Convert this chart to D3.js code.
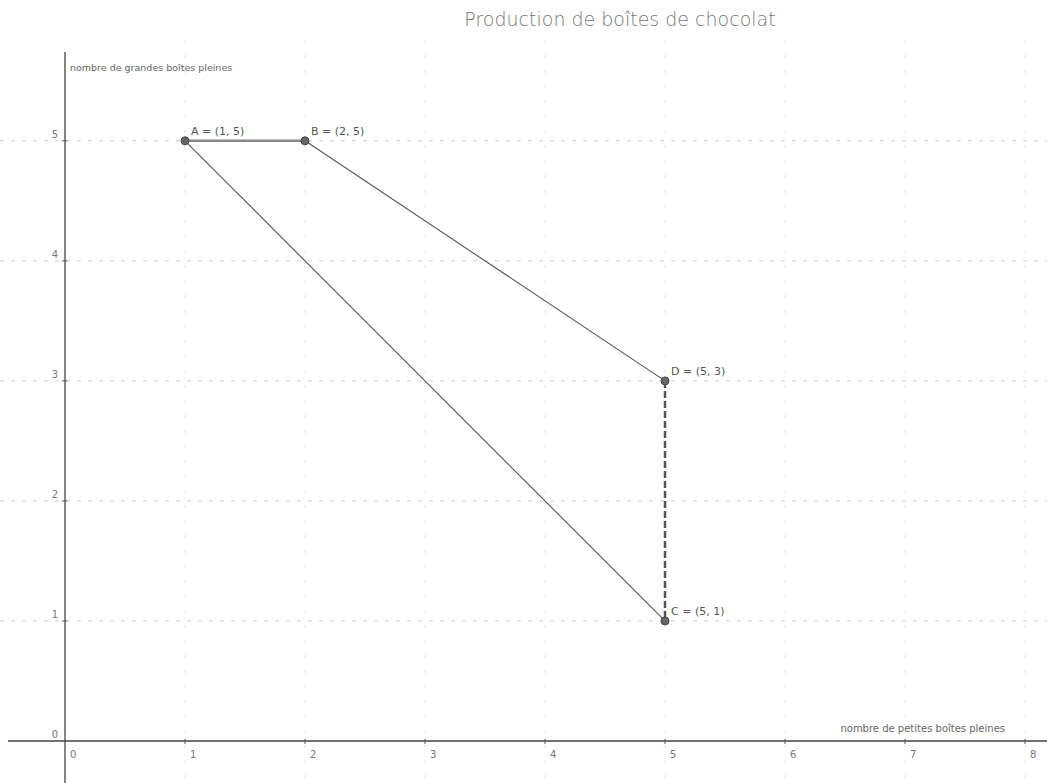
<!DOCTYPE html>
<html>
<head>
<meta charset="utf-8">
<script src="https://cdn.jsdelivr.net/npm/d3@7"></script>
<style>
  body { margin: 0; background: #fff; }
  text { font-family: "DejaVu Sans", sans-serif; fill: #555; }
</style>
</head>
<body>
<div class="chart"></div>
<script>
var pointNames = ['A', 'B', 'D', 'C'];
var pointX = [1, 2, 5, 5];
var pointY = [5, 5, 3, 1];
var xTicks = [0, 1, 2, 3, 4, 5, 6, 7, 8];
var yTicks = [0, 1, 2, 3, 4, 5];

var W = 1047, H = 783;

// 1 unit ~ 120px, origin near (65, 741)
var x = d3.scaleLinear().domain([-0.475, 8.2]).range([8, 1049]);
var y = d3.scaleLinear().domain([0, 5.74]).range([741, 52]);

var svg = d3.select('.chart')
  .append('svg')
    .attr('width', W)
    .attr('height', H);

// title
svg.append('text')
  .attr('x', 620).attr('y', 26)
  .attr('text-anchor', 'middle')
  .style('font-size', '19px')
  .style('font-family', '"URW Gothic", "DejaVu Sans", sans-serif')
  .style('font-weight', 300)
  .style('fill', '#777')
  .text('Production de boîtes de chocolat');

// grid (dashed)
svg.append('g').selectAll('line')
  .data(yTicks.filter(d => d > 0))
  .enter().append('line')
    .attr('x1', 0).attr('x2', W)
    .attr('y1', d => y(d)).attr('y2', d => y(d))
    .attr('stroke', '#ccc').attr('stroke-dasharray', '4,7');

svg.append('g').selectAll('line')
  .data(xTicks.filter(d => d > 0))
  .enter().append('line')
    .attr('x1', d => x(d)).attr('x2', d => x(d))
    .attr('y1', 40).attr('y2', H)
    .attr('stroke', '#e2e2e2').attr('stroke-dasharray', '3,12');

// axes
svg.append('line')
  .attr('x1', 8).attr('x2', W)
  .attr('y1', y(0)).attr('y2', y(0))
  .attr('stroke', '#444').attr('stroke-width', 1.3);
svg.append('line')
  .attr('x1', x(0)).attr('x2', x(0))
  .attr('y1', y(5.74)).attr('y2', H)
  .attr('stroke', '#444').attr('stroke-width', 1.3);

// ticks
svg.append('g').selectAll('line')
  .data(xTicks.filter(d => d > 0))
  .enter().append('line')
    .attr('x1', d => x(d)).attr('x2', d => x(d))
    .attr('y1', y(0) - 2).attr('y2', y(0) + 3)
    .attr('stroke', '#555');
svg.append('g').selectAll('line')
  .data(yTicks.filter(d => d > 0))
  .enter().append('line')
    .attr('x1', x(0) - 3).attr('x2', x(0) + 2)
    .attr('y1', d => y(d)).attr('y2', d => y(d))
    .attr('stroke', '#555');

svg.append('g').selectAll('text')
  .data(xTicks)
  .enter().append('text')
    .attr('x', d => x(d) + 5)
    .attr('y', y(0) + 17)
    .style('font-size', '10px')
    .style('fill', '#777')
    .text(d => d);
svg.append('g').selectAll('text')
  .data(yTicks)
  .enter().append('text')
    .attr('x', x(0) - 7)
    .attr('y', d => y(d) - 3)
    .attr('text-anchor', 'end')
    .style('font-size', '10px')
    .style('fill', '#777')
    .text(d => d);

// axis labels
svg.append('text')
  .attr('x', x(0) + 5).attr('y', 71)
  .style('font-size', '9.5px')
  .style('fill', '#666')
  .text('nombre de grandes boîtes pleines');
svg.append('text')
  .attr('x', 1005).attr('y', y(0) - 9)
  .attr('text-anchor', 'end')
  .style('font-size', '10px')
  .style('fill', '#666')
  .text('nombre de petites boîtes pleines');

// polygon edges
var pts = pointNames.map((n, i) => ({ name: n, x: pointX[i], y: pointY[i] }));
var byName = {};
pts.forEach(p => byName[p.name] = p);
var edges = [
  { a: 'A', b: 'B', w: 2.5, c: '#888', dash: null },
  { a: 'B', b: 'D', w: 1.1, c: '#555', dash: null },
  { a: 'D', b: 'C', w: 2.5, c: '#555', dash: '7,3' },
  { a: 'C', b: 'A', w: 1.1, c: '#555', dash: null }
];
svg.append('g').selectAll('line')
  .data(edges)
  .enter().append('line')
    .attr('x1', d => x(byName[d.a].x)).attr('y1', d => y(byName[d.a].y))
    .attr('x2', d => x(byName[d.b].x)).attr('y2', d => y(byName[d.b].y))
    .attr('stroke', d => d.c)
    .attr('stroke-width', d => d.w)
    .attr('stroke-dasharray', d => d.dash);

// points
var pt = svg.append('g').selectAll('g')
  .data(pts)
  .enter().append('g')
    .attr('transform', d => 'translate(' + x(d.x) + ',' + y(d.y) + ')');
pt.append('circle')
  .attr('r', 4)
  .attr('fill', '#666')
  .attr('stroke', '#444');
pt.append('text')
  .attr('x', 6).attr('y', -6)
  .style('font-size', '11px')
  .text(d => d.name + ' = (' + d.x + ', ' + d.y + ')');
</script>
</body>
</html>
